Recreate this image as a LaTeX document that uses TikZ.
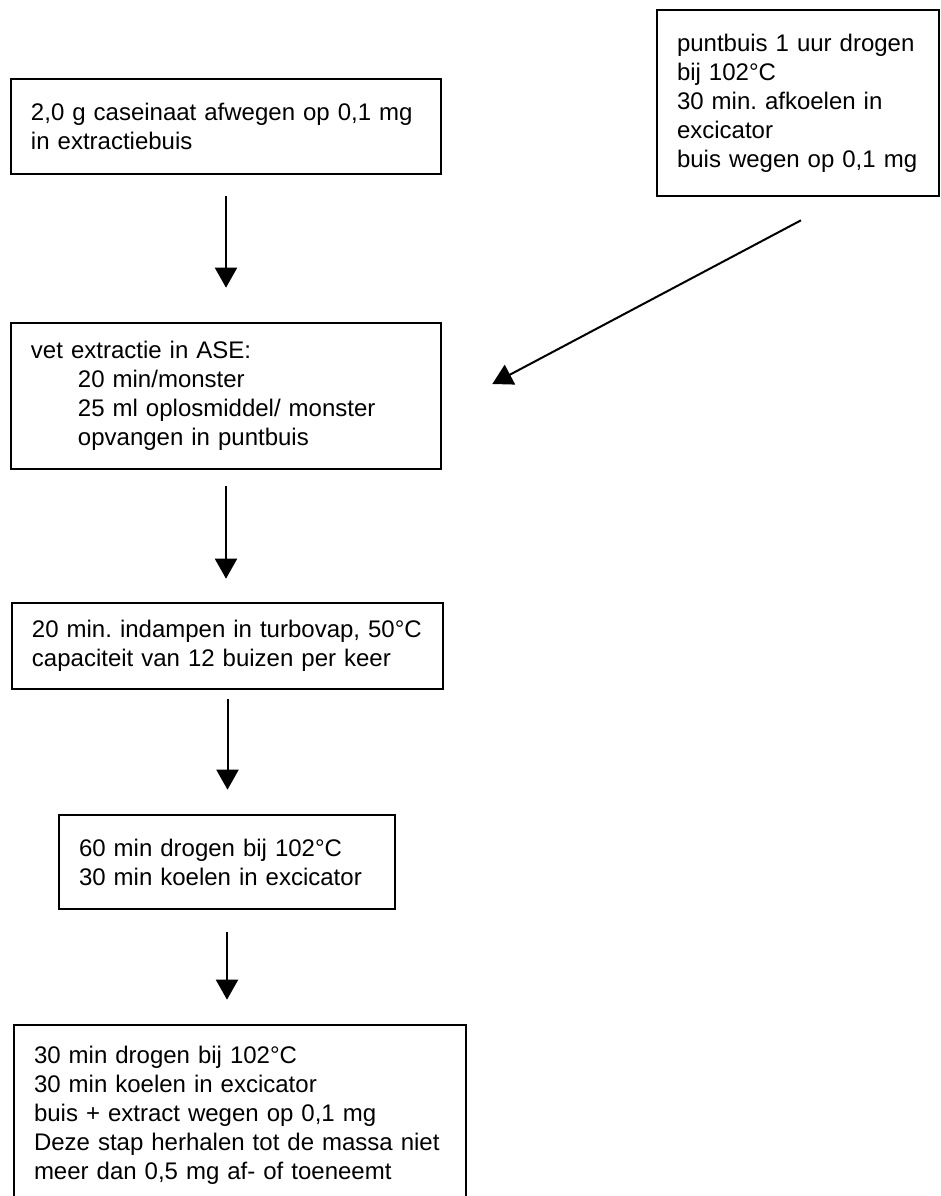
\documentclass[tikz,border=0pt]{standalone}
\usepackage{fontspec}
\setmainfont{Liberation Sans}
\usetikzlibrary{arrows.meta}
\tikzset{>={Triangle[width=11pt,length=10pt]}}
\tikzset{stap/.style={draw, line width=1.3pt, align=left, inner xsep=10pt, inner ysep=0pt,
    font=\fontsize{12}{14.5}\selectfont\frenchspacing}}

\begin{document}
\begin{tikzpicture}[x=0.5pt, y=-0.5pt]
    \clip (0,0) rectangle (941,1196);
    \node[stap, text width=195pt, minimum height=47.5pt] (afwegen) at (226,126.5)
        {2,0 g caseinaat afwegen op 0,1 mg\\in extractiebuis};
    \node[stap, text width=121pt, minimum height=93pt] (puntbuis) at (798,103)
        {puntbuis 1 uur drogen\\bij 102°C\\30 min. afkoelen in\\excicator\\buis wegen op 0,1 mg};
    \node[stap, text width=195pt, minimum height=73pt] (extractie) at (226,396)
        {vet extractie in ASE:\\\hspace*{23.5pt}20 min/monster\\\hspace*{23.5pt}25 ml oplosmiddel/ monster\\\hspace*{23.5pt}opvangen in puntbuis};
    \node[stap, text width=195.5pt, minimum height=43pt] (indampen) at (227.5,646)
        {20 min. indampen in turbovap, 50°C\\capaciteit van 12 buizen per keer};
    \node[stap, text width=148pt, minimum height=47pt] (drogen) at (227,862)
        {60 min drogen bij 102°C\\30 min koelen in excicator};
    \node[stap, text width=206pt, minimum height=90pt] (wegen) at (240,1115)
        {30 min drogen bij 102°C\\30 min koelen in excicator\\buis + extract wegen op 0,1 mg\\Deze stap herhalen tot de massa niet\\meer dan 0,5 mg af- of toeneemt};
    \draw[->, line width=1pt, shorten <=10.5pt, shorten >=17pt] (afwegen.south) -- (afwegen.south |- extractie.north);
    \draw[->, line width=1pt, shorten <=8pt, shorten >=11.5pt] (extractie.south) -- (extractie.south |- indampen.north);
    \draw[->, line width=1pt, shorten <=4.5pt, shorten >=12pt] (indampen.south) -- (indampen.south |- drogen.north);
    \draw[->, line width=1pt, shorten <=11pt, shorten >=12pt] (drogen.south) -- (drogen.south |- wegen.north);
    \draw[->, line width=1pt] ([xshift=1.5pt, yshift=-11.5pt]puntbuis.south) -- ([xshift=25pt, yshift=6pt]extractie.east);
\end{tikzpicture}
\end{document}
